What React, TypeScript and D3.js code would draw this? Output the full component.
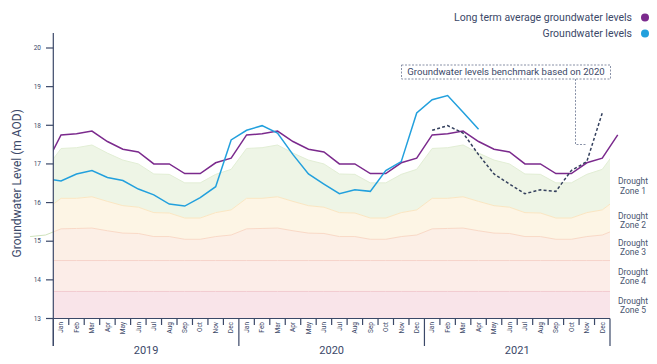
import React from "react";
import * as d3 from "d3";

// ---- data ----
const monthLabels = ["Jan","Feb","Mar","Apr","May","Jun","Jul","Aug","Sep","Oct","Nov","Dec"];
const years = ["2019","2020","2021"];
const yTicks = [13,14,15,16,17,18,19,20];

// Long term average (monthly, repeats every year)
const longTermAvg = [17.75,17.78,17.85,17.58,17.38,17.31,17.0,17.0,16.75,16.75,17.03,17.15];
const longTermAvgDec2018 = 16.97;

// Groundwater levels: Dec 2018, then Jan 2019 .. Apr 2021
const gwDec2018 = 16.62;
const gw2019 = [16.56,16.74,16.83,16.65,16.57,16.35,16.2,15.96,15.91,16.13,16.41,17.62];
const gw2020 = [17.87,17.99,17.80,17.24,16.74,16.48,16.23,16.33,16.29,16.83,17.06,18.32];
const gw2021 = [18.66,18.77,18.34,17.90];

// Drought zone upper boundaries (monthly, repeat every year)
const zone1Top = [17.40,17.42,17.49,17.28,17.10,17.00,16.74,16.73,16.51,16.51,16.73,16.86];
const zone2Top = [16.11,16.11,16.15,16.03,15.92,15.88,15.74,15.73,15.60,15.60,15.74,15.81];
const zone3Top = [15.32,15.33,15.34,15.27,15.21,15.20,15.12,15.12,15.05,15.05,15.12,15.16];
const zone4Top = 14.5;
const zone5Top = 13.7;
const zoneFloor = 13;
const zoneNames = ["Zone 1","Zone 2","Zone 3","Zone 4","Zone 5"];
const zoneLabelLevels = [16.43,15.54,14.84,14.09,13.34];

const W = 657, H = 364;
const X0 = 53.3, X1 = 610;
const font = "Roboto, 'Noto Sans', sans-serif";
const textColor = "#3b4868";
const axisColor = "#3b4868";

export default function App() {
  const x = d3.scaleLinear().domain([0, 36]).range([X0, X1]);
  const y = d3.scaleLinear().domain([13, 20]).range([318.5, 48]);
  const xc = (i: number) => x(i + 0.5);

  // monthly index -2 (Nov 2018) .. 36 (Jan 2022)
  const idx = d3.range(-2, 37);
  const mv = (arr: number[], i: number) => arr[((i % 12) + 12) % 12];

  const zoneRows = idx.map(i => ({
    i,
    z1: mv(zone1Top, i),
    z2: mv(zone2Top, i),
    z3: mv(zone3Top, i),
  }));

  const area = (top: (d: any) => number, bot: (d: any) => number) =>
    d3.area<any>().x(d => xc(d.i)).y0(d => y(bot(d))).y1(d => y(top(d)))(zoneRows) || "";
  const line = (f: (d: any) => number) =>
    d3.line<any>().x(d => xc(d.i)).y(d => y(f(d)))(zoneRows) || "";

  const avgPts: [number, number][] = [[-1, longTermAvgDec2018]];
  for (let i = 0; i <= 36; i++) avgPts.push([i, mv(longTermAvg, i)]);
  const gwVals = [gwDec2018, ...gw2019, ...gw2020, ...gw2021];
  const gwPts: [number, number][] = gwVals.map((v, k) => [k - 1, v]);
  const benchPts: [number, number][] = gw2020.map((v, k) => [24 + k, v]);

  const ln = d3.line<[number, number]>().x(d => xc(d[0])).y(d => y(d[1]));

  const zoneFills = ["#eef5e6", "#fdf5e5", "#fcefe6", "#fcede8", "#f9e4e9"];
  const zoneEdges = ["#e2eed5", "#fae6c2", "#f9d9c6", "#f6d3ca", "#f2cad0"];

  return (
    <svg width={W} height={H} style={{ position: "absolute", left: 0, top: 0, fontFamily: font }}>
      <defs>
        <clipPath id="plot">
          <rect x={X0} y={0} width={X1 - X0} height={318.5} />
        </clipPath>
        <clipPath id="lines">
          <rect x={X0} y={0} width={W - X0} height={318.5} />
        </clipPath>
        <clipPath id="leftOut">
          <rect x={0} y={0} width={X0} height={318.5} />
        </clipPath>
      </defs>

      {/* zones */}
      <g clipPath="url(#plot)">
        <path d={area(d => d.z1, d => d.z2)} fill={zoneFills[0]} />
        <path d={area(d => d.z2, d => d.z3)} fill={zoneFills[1]} />
        <path d={area(d => d.z3, () => zone4Top)} fill={zoneFills[2]} />
        <path d={area(() => zone4Top, () => zone5Top)} fill={zoneFills[3]} />
        <path d={area(() => zone5Top, () => zoneFloor)} fill={zoneFills[4]} />
        <path d={line(d => d.z1)} fill="none" stroke={zoneEdges[0]} strokeWidth={1} />
        <path d={line(d => d.z2)} fill="none" stroke={zoneEdges[1]} strokeWidth={1} />
        <path d={line(d => d.z3)} fill="none" stroke={zoneEdges[2]} strokeWidth={1} />
        <path d={line(() => zone4Top)} fill="none" stroke={zoneEdges[3]} strokeWidth={1} />
        <path d={line(() => zone5Top)} fill="none" stroke={zoneEdges[4]} strokeWidth={1} />
      </g>
      <g clipPath="url(#leftOut)">
        <path d={line(d => d.z3)} fill="none" stroke="#cfe2bc" strokeWidth={1} />
      </g>

      {/* lines */}
      <g clipPath="url(#lines)" fill="none">
        <path d={ln(avgPts) || ""} stroke="#7b2a8d" strokeWidth={1.5} />
        <path d={ln(gwPts) || ""} stroke="#22a0dd" strokeWidth={1.5} />
        <path d={ln(benchPts) || ""} stroke="#35415e" strokeWidth={1.5} strokeDasharray="3,2.2" />
      </g>

      {/* y axis */}
      <line x1={X0} x2={X0} y1={33} y2={346} stroke={axisColor} strokeWidth={1.2} />
      {yTicks.map(t => (
        <g key={t}>
          <line x1={46} x2={X0} y1={y(t)} y2={y(t)} stroke={axisColor} strokeWidth={1.2} />
          <text x={41} y={y(t)} dy="0.35em" textAnchor="end" fontSize={6.5} fill={textColor}>{t}</text>
        </g>
      ))}
      <text transform={`translate(17,${(y(13) + y(20)) / 2}) rotate(-90)`} textAnchor="middle"
        dy="0.35em" fontSize={12} fill={textColor}>Groundwater Level (m AOD)</text>

      {/* x axis */}
      <line x1={X0} x2={X1} y1={318.5} y2={318.5} stroke={axisColor} strokeWidth={1.2} />
      {d3.range(0, 37).map(i => (
        <line key={"t" + i} x1={x(i)} x2={x(i)} y1={318.5} y2={i % 12 === 0 ? 346 : 325}
          stroke={axisColor} strokeWidth={1.2} />
      ))}
      {d3.range(0, 36).map(i => (
        <text key={"m" + i} transform={`translate(${xc(i)},322) rotate(-90)`} textAnchor="end"
          dy="0.35em" fontSize={6.5} fill={textColor}>{monthLabels[i % 12]}</text>
      ))}
      {years.map((yr, k) => (
        <text key={yr} x={(x(k * 12) + x(k * 12 + 12)) / 2} y={354} textAnchor="middle"
          fontSize={11} fill={textColor}>{yr}</text>
      ))}

      {/* zone labels */}
      {zoneNames.map((z, k) => (
        <text key={z} x={633} y={y(zoneLabelLevels[k])} textAnchor="middle" fontSize={8.5} fill="#4a5670">
          <tspan x={633} dy="-0.2em">Drought</tspan>
          <tspan x={633} dy="1.12em">{z}</tspan>
        </text>
      ))}

      {/* legend */}
      <text x={632} y={17.5} dy="0.35em" textAnchor="end" fontSize={10.5} fill={textColor}>Long term average groundwater levels</text>
      <circle cx={645} cy={17.5} r={4} fill="#7b2a8d" />
      <text x={632} y={33.5} dy="0.35em" textAnchor="end" fontSize={10.5} fill={textColor}>Groundwater levels</text>
      <circle cx={645} cy={33.5} r={4} fill="#22a0dd" />

      {/* annotation */}
      <rect x={401.5} y={65} width={209} height={14} fill="white" stroke="#6a7590" strokeWidth={0.8} strokeDasharray="2,1.5" />
      <text x={506} y={72} dy="0.35em" textAnchor="middle" fontSize={9.6} fill={textColor}>Groundwater levels benchmark based on 2020</text>
      <path d="M575.5,79V144.5H586.5" fill="none" stroke="#6a7590" strokeWidth={0.8} strokeDasharray="2,1.5" />
    </svg>
  );
}
